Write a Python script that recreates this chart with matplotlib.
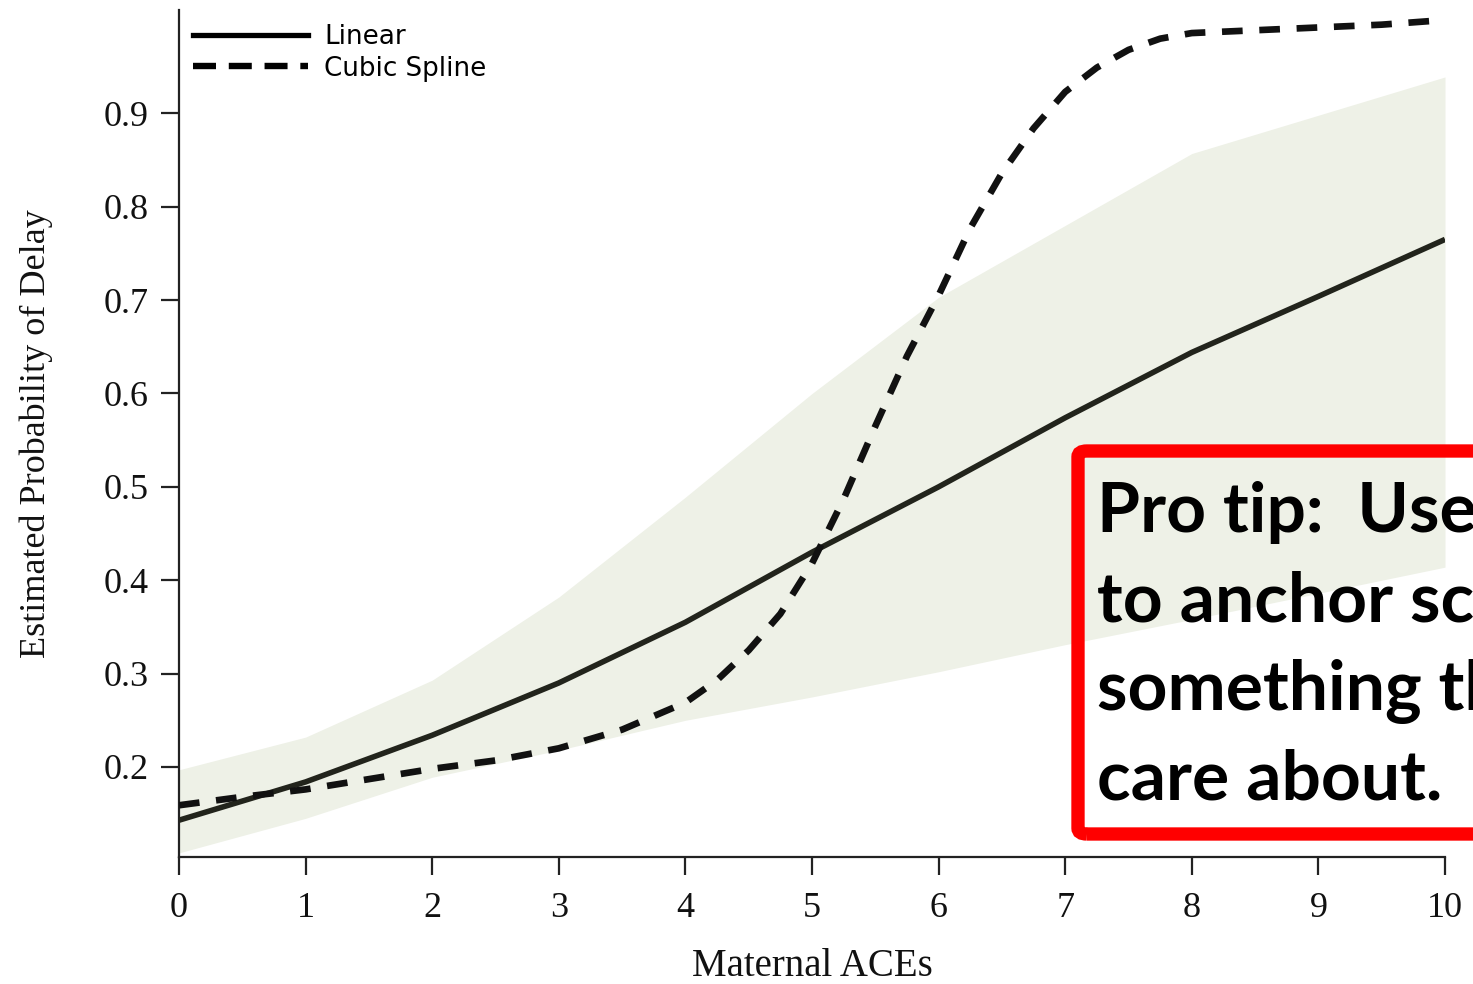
import matplotlib
matplotlib.use("Agg")
import matplotlib.pyplot as plt
from matplotlib.lines import Line2D
from matplotlib.patches import FancyBboxPatch

# ---- data ----
aces = [0, 1, 2, 3, 4, 5, 6, 7, 8, 9, 10]
linear_prob = [0.143, 0.184, 0.234, 0.290, 0.355, 0.430, 0.500, 0.574, 0.644, 0.704, 0.765]
ci_lower = [0.108, 0.145, 0.189, 0.218, 0.250, 0.275, 0.302, 0.331, 0.358, 0.386, 0.414]
ci_upper = [0.197, 0.232, 0.293, 0.382, 0.489, 0.600, 0.703, 0.780, 0.857, 0.898, 0.939]

spline_x = [0, 0.5, 1, 1.5, 2, 2.5, 3, 3.5, 4, 4.25, 4.5, 4.75, 5, 5.25, 5.5, 5.75,
            6, 6.25, 6.5, 6.75, 7, 7.25, 7.5, 7.75, 8, 8.5, 9, 9.5, 10]
spline_prob = [0.159, 0.168, 0.176, 0.187, 0.198, 0.207, 0.220, 0.240, 0.269, 0.293,
               0.325, 0.364, 0.418, 0.487, 0.565, 0.640, 0.705, 0.777, 0.836, 0.884,
               0.923, 0.949, 0.968, 0.980, 0.986, 0.989, 0.992, 0.995, 1.000]

yticks = [0.2, 0.3, 0.4, 0.5, 0.6, 0.7, 0.8, 0.9]
tip_lines = ["Pro tip:  Use numbers", "to anchor scales to", "something they", "care about."]

W, H = 1473, 984
fig = plt.figure(figsize=(W / 100, H / 100), dpi=100)
ax = fig.add_axes([179 / W, (H - 857) / H, (1445 - 179) / W, (857 - 10) / H])

band_color = "#eef1e7"
line_color = "#22241c"

ax.fill_between(aces, ci_lower, ci_upper, color=band_color, linewidth=0, zorder=1)
ax.plot(aces, linear_prob, color=line_color, linewidth=4.0, solid_capstyle="butt", zorder=3)
ax.plot(spline_x, spline_prob, color="#111111", linewidth=4.8,
        dashes=(3.1, 2.5), dash_capstyle="butt", zorder=4)

ax.set_xlim(0, 10)
ax.set_ylim(0.1036, 1.0107)
ax.set_xticks(aces)
ax.set_yticks(yticks)
ax.set_yticklabels([f"{v:.1f}" for v in yticks])

serif = "Liberation Serif"
for lab in ax.get_xticklabels() + ax.get_yticklabels():
    lab.set_fontfamily(serif)
    lab.set_fontsize(26)
ax.tick_params(axis="both", length=13, width=1.6, color="#222222", labelcolor="#111111")
ax.tick_params(axis="x", pad=12)
ax.tick_params(axis="y", pad=9)

for side in ["top", "right"]:
    ax.spines[side].set_visible(False)
for side in ["left", "bottom"]:
    ax.spines[side].set_linewidth(1.6)
    ax.spines[side].set_color("#222222")

ax.set_xlabel("Maternal ACEs", fontfamily=serif, fontsize=28, color="#111111", labelpad=16.5)
ax.set_ylabel("Estimated Probability of Delay", fontfamily=serif, fontsize=26,
              color="#111111", labelpad=36)

handles = [
    Line2D([], [], color="black", linewidth=3.8),
    Line2D([], [], color="black", linewidth=4.6, dashes=(3.6, 2.0), dash_capstyle="butt"),
]
leg = ax.legend(handles, ["Linear", "Cubic Spline"], loc="upper left",
                bbox_to_anchor=(0.0, 1.0), frameon=False, handlelength=4.4,
                handletextpad=0.6, labelspacing=0.2, borderaxespad=0.15,
                prop={"family": "DejaVu Sans", "size": 18.8})

# red call-out box (extends past the right edge of the figure)
box = FancyBboxPatch((1078 / W, (H - 834) / H), (1700 - 1078) / W, (834 - 451) / H,
                     boxstyle="round,pad=0,rounding_size=0.006",
                     transform=fig.transFigure, facecolor="none",
                     edgecolor="#ff0000", linewidth=9.6, zorder=10)
fig.add_artist(box)

baselines = [532, 622, 710, 800]
for txt, yb in zip(tip_lines, baselines):
    fig.text(1097 / W, (H - yb) / H, txt, fontfamily="Lato", fontweight="bold",
             fontsize=50, color="black", va="baseline", ha="left", zorder=11)

fig.savefig("out.png", dpi=100)
